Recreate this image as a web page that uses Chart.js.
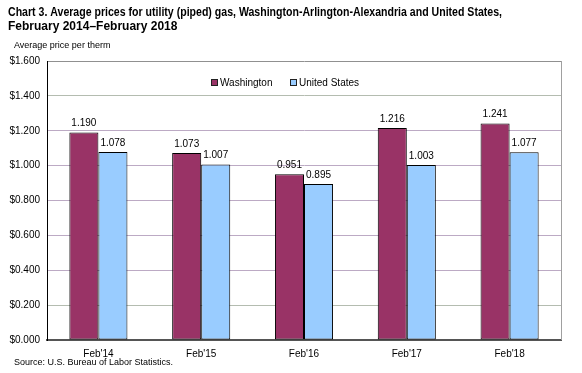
<!DOCTYPE html>
<html><head><meta charset="utf-8">
<script src="https://cdn.jsdelivr.net/npm/chart.js@4"></script>
<style>html,body{margin:0;padding:0;background:#fff;}#wrap{width:582px;height:373px;position:relative;}</style>
</head><body><div id="wrap"><canvas id="c" width="582" height="373"></canvas></div>
<script>
const categories = ["Feb'14", "Feb'15", "Feb'16", "Feb'17", "Feb'18"];
const washington = [1.190, 1.073, 0.951, 1.216, 1.241];
const unitedStates = [1.078, 1.007, 0.895, 1.003, 1.077];
const seriesNames = ["Washington", "United States"];
const yTicks = [0, 0.2, 0.4, 0.6, 0.8, 1.0, 1.2, 1.4, 1.6];
const titleLines = ["Chart 3. Average prices for utility (piped) gas, Washington-Arlington-Alexandria and United States,", "February 2014\u2013February 2018"];
const subtitle = "Average price per therm";
const sourceText = "Source: U.S. Bureau of Labor Statistics.";

const FONT = "'Liberation Sans', Arial, sans-serif";

const decor = {
  id: 'decor',
  afterDraw(chart) {
    const ctx = chart.ctx, a = chart.chartArea;
    ctx.save();
    ctx.strokeStyle = '#a0a0a0'; ctx.lineWidth = 1;
    ctx.beginPath(); ctx.moveTo(a.right + 0.5, a.top); ctx.lineTo(a.right + 0.5, a.bottom); ctx.stroke();
    ctx.fillStyle = '#000'; ctx.textBaseline = 'alphabetic'; ctx.textAlign = 'left';
    ctx.font = 'bold 12px ' + FONT;
    ctx.fillText(titleLines[0], 8, 16, 494);
    ctx.fillText(titleLines[1], 8, 30);
    ctx.font = '9px ' + FONT;
    ctx.fillText(subtitle, 14, 48);
    ctx.fillText(sourceText, 14, 365);
    ctx.font = '10px ' + FONT; ctx.textAlign = 'center'; ctx.textBaseline = 'bottom';
    chart.data.datasets.forEach((ds, i) => {
      chart.getDatasetMeta(i).data.forEach((bar, j) => {
        ctx.fillText(ds.data[j].toFixed(3), bar.x, bar.y - 4);
      });
    });
    const lx = [211, 290];
    ctx.textAlign = 'left'; ctx.textBaseline = 'middle';
    chart.data.datasets.forEach((ds, i) => {
      ctx.fillStyle = ds.backgroundColor;
      ctx.fillRect(lx[i], 79, 7, 7);
      ctx.strokeStyle = '#222'; ctx.strokeRect(lx[i] + 0.5, 79.5, 6, 6);
      ctx.fillStyle = '#000';
      ctx.fillText(ds.label, lx[i] + 9, 83);
    });
    ctx.restore();
  }
};

new Chart(document.getElementById('c'), {
  type: 'bar',
  data: {
    labels: categories,
    datasets: [
      { label: seriesNames[0], data: washington, backgroundColor: '#993366', borderColor: '#000', borderWidth: 1, borderSkipped: false },
      { label: seriesNames[1], data: unitedStates, backgroundColor: '#99ccff', borderColor: '#000', borderWidth: 1, borderSkipped: false }
    ]
  },
  options: {
    responsive: false, animation: false, devicePixelRatio: 1,
    layout: { padding: { left: 0, right: 21, top: 61, bottom: 0 } },
    plugins: { legend: { display: false }, tooltip: { enabled: false }, title: { display: false } },
    datasets: { bar: { barPercentage: 1.0, categoryPercentage: 0.565 } },
    scales: {
      x: {
        grid: { display: false, drawTicks: false },
        border: { color: '#555', width: 2 },
        ticks: { color: '#000', font: { family: FONT, size: 10 }, padding: 8, maxRotation: 0 },
        afterFit: s => { s.height = 33; }
      },
      y: {
        min: 0, max: 1.6,
        afterBuildTicks: s => { s.ticks = yTicks.map(v => ({ value: v })); },
        grid: {
          drawTicks: false,
          color: c => {
            const v = c.tick ? Math.round(c.tick.value * 10) / 10 : 0;
            if (v === 1.6) return '#909090';
            if (v === 0.2 || v === 1.4) return '#b4bcb0';
            return '#bcaac4';
          }
        },
        border: { color: '#000', width: 1 },
        ticks: { color: '#000', font: { family: FONT, size: 10 }, padding: 7, callback: v => '$' + Number(v).toFixed(3) },
        afterFit: s => { s.width = 47; }
      }
    }
  },
  plugins: [decor]
});
</script></body></html>
